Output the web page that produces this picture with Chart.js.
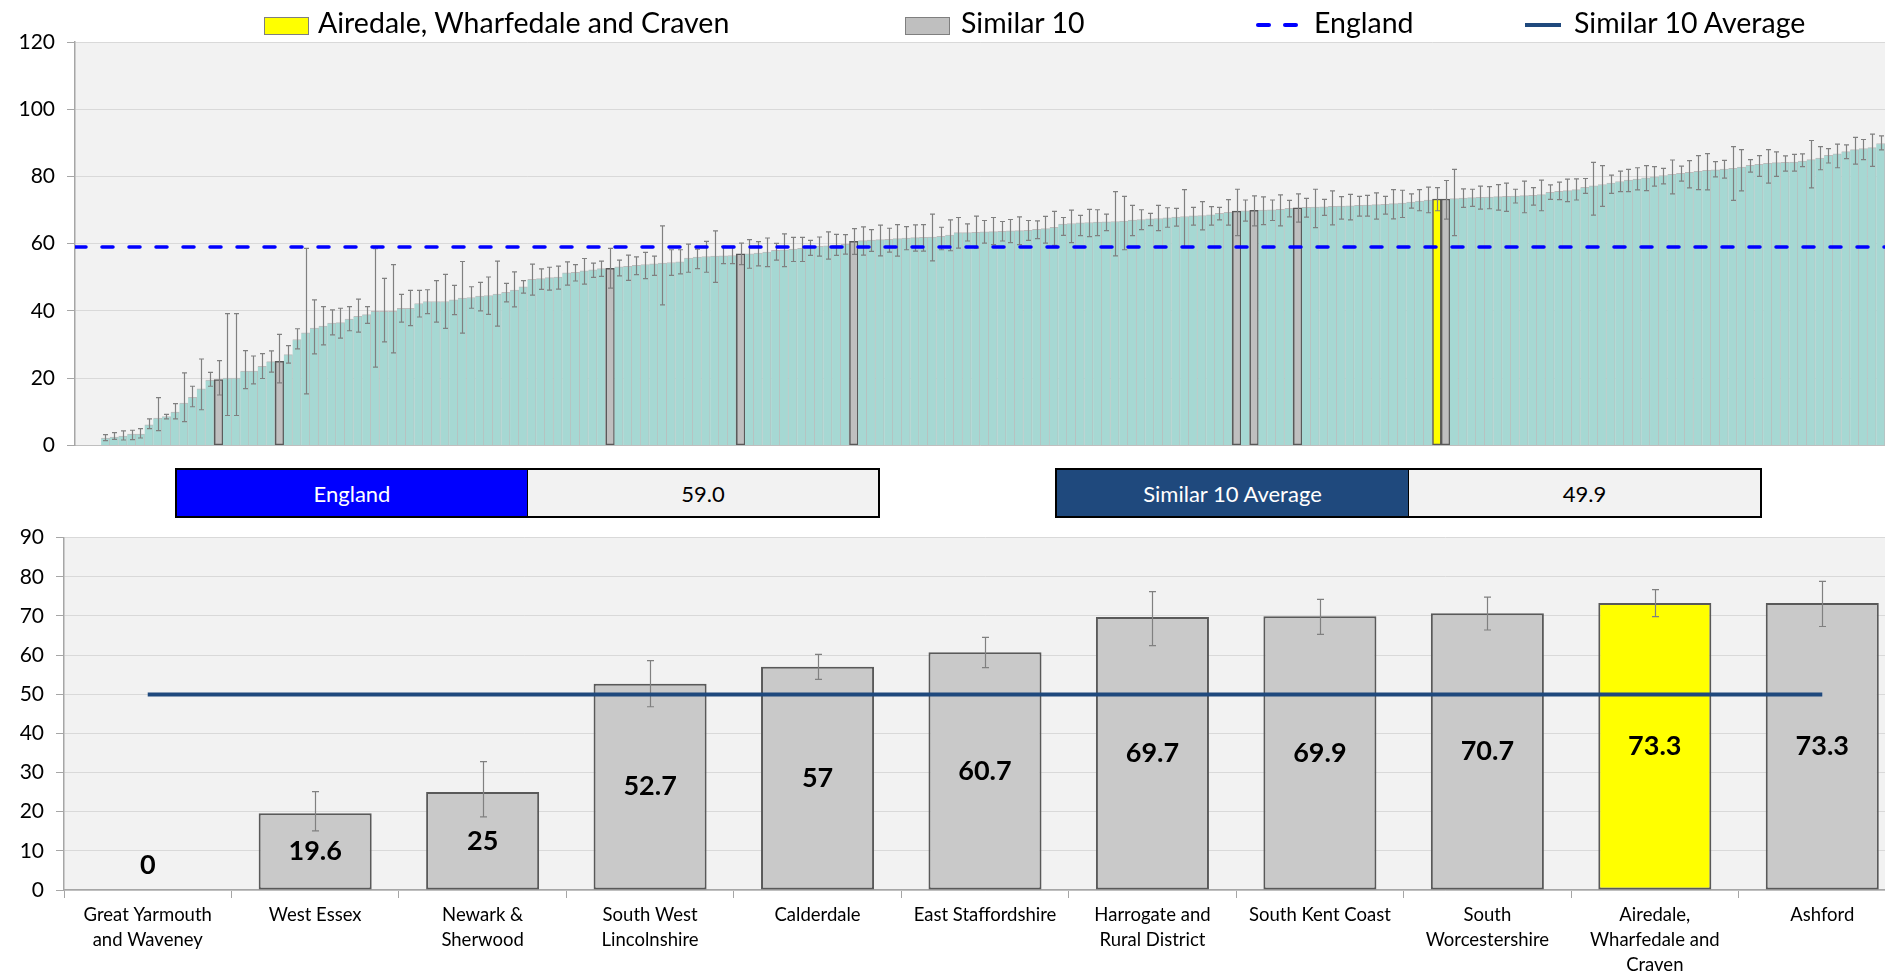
<!DOCTYPE html>
<html>
<head>
<meta charset="utf-8">
<script src="https://cdn.jsdelivr.net/npm/chart.js@4.4.1/dist/chart.umd.min.js"></script>
<style>
	html, body { margin: 0; padding: 0; background: #fff; overflow: hidden; }
	body { width: 1885px; height: 973px; position: relative; font-family: Lato, 'Open Sans', sans-serif; }
	#topWrap { position: absolute; left: 0; top: 0; width: 1885px; height: 470px; }
	#bottomWrap { position: absolute; left: 0; top: 513px; width: 1910px; height: 460px; }
	.lg-text { position: absolute; top: 8px; font-size: 28.5px; line-height: 28.5px; color: #000; white-space: nowrap; }
	.lg-box { position: absolute; top: 17px; width: 43px; height: 16px; border: 1px solid #7f7f7f; }
	.lg-dash { position: absolute; top: 23px; width: 15px; height: 4px; border-radius: 2px; background: #0000ff; }
	.lg-line { position: absolute; top: 23px; width: 36px; height: 4px; background: #1f497d; }
	.stat { position: absolute; top: 468px; height: 50px; border: 2px solid #000; box-sizing: border-box; display: flex; font-size: 22px; }
	.stat div { flex: 1; display: flex; align-items: center; justify-content: center; }
	.stat .val { background: #f2f2f2; color: #000; border-left: 1px solid #000; }
</style>
</head>
<body>

<div id="topWrap"><canvas id="topChart"></canvas></div>
<div id="bottomWrap"><canvas id="bottomChart"></canvas></div>

<!-- shared legend -->
<div class="lg-box" style="left:264px; background:#ffff00;"></div>
<div class="lg-text" style="left:318px;">Airedale, Wharfedale and Craven</div>
<div class="lg-box" style="left:905px; background:#bfbfbf;"></div>
<div class="lg-text" style="left:961px;">Similar 10</div>
<div class="lg-dash" style="left:1256px;"></div>
<div class="lg-dash" style="left:1283px;"></div>
<div class="lg-text" style="left:1314px;">England</div>
<div class="lg-line" style="left:1525px;"></div>
<div class="lg-text" style="left:1574px;">Similar 10 Average</div>

<div class="stat" style="left:175px; width:705px;">
	<div style="background:#0000ff; color:#fff;">England</div>
	<div class="val" id="englandVal"></div>
</div>
<div class="stat" style="left:1055px; width:707px;">
	<div style="background:#1f497d; color:#fff;">Similar 10 Average</div>
	<div class="val" id="similarVal"></div>
</div>

<script>
// reference values
const englandValue = 59.0;
const similarAverage = 49.9;

// all CCGs, sorted (first three slots are zero)
const topValues = [0, 0, 0,
	2.2, 2.5, 2.8, 3.4, 3.4, 6.1, 8.1, 8.6, 9.9, 12.6,
	14.3, 16.8, 19.4, 19.6, 20.0, 20.0, 22.1, 22.1, 23.5, 24.9,
	25.0, 27.0, 31.5, 33.5, 34.9, 35.5, 36.4, 36.5, 37.6, 38.4,
	38.9, 39.9, 39.9, 39.9, 40.8, 40.8, 42.2, 42.8, 42.8, 42.8,
	43.3, 43.8, 44.0, 44.4, 44.6, 45.0, 45.5, 46.2, 47.2, 49.4,
	49.6, 49.9, 50.1, 51.3, 51.5, 51.9, 52.2, 52.6, 52.7, 53.1,
	53.3, 53.6, 53.8, 54.0, 54.2, 54.4, 54.6, 55.7, 56.0, 56.2,
	56.3, 56.4, 56.5, 57.0, 57.0, 57.2, 57.5, 58.0, 58.2, 58.4,
	58.6, 58.9, 59.2, 59.4, 59.6, 59.8, 60.7, 60.9, 61.1, 61.2,
	61.3, 61.5, 61.7, 61.8, 61.9, 62.0, 62.2, 62.6, 63.3, 63.3,
	63.4, 63.5, 63.6, 63.7, 63.8, 63.9, 64.0, 64.3, 64.5, 64.9,
	65.8, 66.0, 66.2, 66.3, 66.4, 66.5, 66.6, 66.7, 67.0, 67.2,
	67.4, 67.5, 67.7, 67.9, 68.1, 68.3, 68.4, 68.6, 69.0, 69.3,
	69.7, 69.8, 69.9, 70.0, 70.1, 70.2, 70.5, 70.7, 70.8, 70.9,
	71.0, 71.1, 71.2, 71.3, 71.4, 71.5, 71.6, 71.7, 71.9, 72.1,
	72.4, 72.7, 73.0, 73.3, 73.3, 73.4, 73.6, 73.7, 73.8, 73.9,
	74.0, 74.1, 74.2, 74.3, 74.4, 74.6, 75.3, 75.6, 75.8, 76.1,
	76.8, 77.2, 77.6, 78.0, 78.5, 78.9, 79.2, 79.6, 79.9, 80.3,
	80.6, 80.9, 81.2, 81.5, 81.8, 82.0, 82.2, 82.4, 82.8, 83.3,
	83.6, 83.9, 84.1, 84.2, 84.3, 84.6, 85.0, 85.5, 86.3, 86.7,
	87.4, 88.0, 88.3, 88.6, 89.8];

const topUpper = [null, null, null,
	3.2, 3.8, 4.3, 4.5, 5.0, 7.9, 14.2, 9.2, 12.4, 21.6,
	17.6, 25.7, 21.7, 25.2, 39.2, 39.2, 28.2, 26.6, 27.3, 28.1,
	33.0, 29.7, 34.7, 58.6, 43.3, 41.3, 40.3, 40.8, 41.3, 43.5,
	41.3, 58.5, 49.7, 53.8, 44.9, 46.1, 46.1, 46.3, 49.0, 50.9,
	47.6, 54.7, 47.2, 48.5, 50.1, 54.8, 48.2, 51.6, 49.0, 53.9,
	52.5, 53.0, 53.3, 54.6, 53.8, 55.6, 54.2, 54.8, 58.6, 55.1,
	56.6, 56.1, 57.4, 56.3, 65.3, 58.2, 58.2, 59.9, 58.4, 60.7,
	63.8, 59.2, 59.2, 60.2, 61.2, 60.6, 61.7, 60.1, 62.9, 61.9,
	61.9, 61.0, 62.0, 63.5, 62.8, 62.7, 64.5, 65.0, 64.2, 65.5,
	64.6, 65.7, 65.1, 65.6, 65.7, 68.8, 64.9, 67.1, 67.8, 65.9,
	68.2, 66.9, 67.8, 66.6, 67.2, 68.0, 66.9, 66.8, 68.1, 69.6,
	67.8, 70.0, 68.4, 70.2, 70.1, 68.8, 75.5, 74.1, 71.4, 70.1,
	69.0, 71.4, 70.7, 70.5, 76.1, 70.8, 72.5, 71.0, 70.8, 73.1,
	76.2, 73.0, 74.2, 73.9, 73.0, 74.5, 72.9, 74.8, 73.5, 76.2,
	73.2, 75.7, 74.0, 74.7, 74.1, 74.4, 75.1, 74.1, 76.1, 75.9,
	74.8, 76.1, 76.8, 76.7, 78.8, 82.1, 76.3, 76.2, 77.1, 77.0,
	77.6, 78.0, 76.2, 78.6, 76.7, 78.9, 77.5, 78.3, 79.2, 79.3,
	79.4, 84.2, 83.2, 80.4, 81.6, 82.1, 82.6, 83.2, 82.9, 82.4,
	84.9, 83.1, 84.7, 86.2, 86.8, 84.4, 84.8, 88.9, 88.0, 85.0,
	86.2, 88.0, 87.3, 86.1, 86.6, 86.7, 90.7, 88.9, 88.3, 89.6,
	89.4, 91.6, 91.0, 92.6, 92.1];

const topLower = [null, null, null,
	1.4, 1.8, 1.6, 1.7, 2.2, 5.0, 4.4, 7.9, 7.9, 7.1,
	11.5, 10.6, 17.6, 15.0, 8.9, 8.9, 16.9, 18.3, 19.9, 21.8,
	18.6, 24.5, 28.7, 15.3, 27.2, 29.9, 32.9, 31.9, 34.1, 33.7,
	36.3, 23.3, 30.8, 27.5, 36.7, 35.6, 38.2, 39.2, 36.7, 34.8,
	38.9, 33.4, 40.8, 40.0, 39.0, 35.5, 42.7, 41.2, 45.3, 44.7,
	46.4, 46.2, 46.5, 47.7, 48.9, 48.0, 50.0, 50.3, 46.8, 50.4,
	49.1, 50.8, 49.6, 50.6, 41.8, 50.6, 51.0, 51.5, 52.6, 51.5,
	48.5, 54.1, 54.1, 53.8, 52.7, 53.4, 53.2, 55.1, 53.2, 54.7,
	54.7, 56.5, 56.3, 55.4, 56.5, 56.9, 56.8, 56.6, 57.7, 56.4,
	57.5, 56.3, 58.2, 57.8, 57.8, 54.9, 58.2, 57.9, 58.7, 60.8,
	58.7, 60.2, 59.7, 60.8, 60.3, 59.7, 61.0, 61.5, 60.2, 59.5,
	62.5, 60.3, 62.4, 62.1, 62.4, 63.9, 56.4, 58.2, 62.4, 64.2,
	65.4, 63.9, 64.9, 65.2, 59.0, 65.5, 64.1, 65.5, 67.1, 65.5,
	62.4, 66.7, 65.3, 65.7, 66.9, 65.3, 68.0, 66.4, 67.9, 64.8,
	68.4, 65.6, 67.3, 67.1, 68.2, 68.2, 67.3, 68.8, 67.4, 67.8,
	70.6, 69.8, 69.2, 69.8, 67.3, 62.4, 70.8, 71.1, 70.3, 70.4,
	70.0, 69.6, 72.1, 69.2, 71.5, 69.8, 73.2, 73.1, 72.5, 73.0,
	75.0, 68.5, 71.1, 75.0, 75.5, 75.5, 76.0, 75.8, 77.1, 77.8,
	74.8, 78.6, 76.6, 76.1, 76.0, 79.9, 79.5, 72.9, 75.7, 81.3,
	80.0, 78.0, 80.0, 81.6, 81.6, 82.9, 76.6, 82.0, 84.0, 82.6,
	85.3, 83.7, 85.0, 83.0, 87.9];

// positions of the similar 10 and the focus CCG in the sorted list
const similarSlots = [0, 16, 23, 61, 76, 89, 133, 135, 140, 157];
const focusSlot = 156;

// similar 10 comparison
const similarLabels = [
	['Great Yarmouth', 'and Waveney'], ['West Essex'], ['Newark &', 'Sherwood'],
	['South West', 'Lincolnshire'], ['Calderdale'], ['East Staffordshire'],
	['Harrogate and', 'Rural District'], ['South Kent Coast'], ['South', 'Worcestershire'],
	['Airedale,', 'Wharfedale and', 'Craven'], ['Ashford']
];
const similarValues = [0, 19.6, 25, 52.7, 57, 60.7, 69.7, 69.9, 70.7, 73.3, 73.3];
const similarUpper = [null, 25.1, 32.8, 58.6, 60.2, 64.5, 76.2, 74.2, 74.8, 76.7, 78.8];
const similarLower = [null, 15.1, 18.7, 46.8, 53.8, 56.8, 62.4, 65.3, 66.4, 69.8, 67.3];
const similarFocus = 9;

document.getElementById('englandVal').textContent = englandValue.toFixed(1);
document.getElementById('similarVal').textContent = similarAverage.toFixed(1);

Chart.defaults.font.family = "Lato, 'Open Sans', sans-serif";
Chart.defaults.color = '#000';

// grey plot background
const plotBg = {
	id: 'plotBg',
	beforeDraw(chart) {
		const a = chart.chartArea;
		chart.ctx.save();
		chart.ctx.fillStyle = '#f2f2f2';
		chart.ctx.fillRect(a.left, a.top, a.right - a.left, a.bottom - a.top);
		chart.ctx.restore();
	}
};

// error bars from errLow / errHigh on a bar dataset
const errorBars = {
	id: 'errorBars',
	afterDatasetDraw(chart, args, opts) {
		const ds = chart.data.datasets[args.index];
		if (!ds.errLow) return;
		const y = chart.scales.y;
		const ctx = chart.ctx;
		ctx.save();
		ctx.strokeStyle = opts.color;
		ctx.lineWidth = opts.width;
		args.meta.data.forEach((bar, i) => {
			const lo = ds.errLow[i], hi = ds.errHigh[i];
			if (lo == null || hi == null) return;
			const x = Math.round(bar.x) + 0.5;
			const yl = y.getPixelForValue(lo), yh = y.getPixelForValue(hi);
			ctx.beginPath();
			ctx.moveTo(x, yl); ctx.lineTo(x, yh);
			ctx.moveTo(x - opts.cap, yl); ctx.lineTo(x + opts.cap, yl);
			ctx.moveTo(x - opts.cap, yh); ctx.lineTo(x + opts.cap, yh);
			ctx.stroke();
		});
		ctx.restore();
	}
};

// value labels in the middle of the bars
const barLabels = {
	id: 'barLabels',
	afterDatasetsDraw(chart) {
		const meta = chart.getDatasetMeta(1);
		const ds = chart.data.datasets[1];
		const ctx = chart.ctx;
		ctx.save();
		ctx.font = "bold 27px Lato, 'Open Sans', sans-serif";
		ctx.fillStyle = '#000';
		ctx.textAlign = 'center';
		ctx.textBaseline = 'middle';
		meta.data.forEach((bar, i) => {
			const mid = (bar.y + bar.base) / 2;
			ctx.fillText(String(ds.data[i]), bar.x, Math.min(mid, bar.base - 25));
		});
		ctx.restore();
	}
};

const teal = '#a6d8d3';
const topColors = topValues.map((v, i) => i === focusSlot ? '#ffff00' : similarSlots.includes(i) ? '#bfbfbf' : teal);
const topBorders = topValues.map((v, i) => i === focusSlot || similarSlots.includes(i) ? '#595959' : '#bcbcbc');
const topBorderWidths = topValues.map((v, i) => i === focusSlot || similarSlots.includes(i)
	? 1.5 : { top: 1, right: 1, bottom: 0, left: 0 });

const topCanvas = document.getElementById('topChart');
topCanvas.width = 1885;
topCanvas.height = 470;

new Chart(topCanvas, {
	type: 'bar',
	data: {
		labels: topValues.map((v, i) => i + 1),
		datasets: [
			{
				type: 'line',
				label: 'England',
				data: [{ x: 0, y: englandValue }, { x: 1, y: englandValue }],
				xAxisID: 'xLine',
				borderColor: '#0000ff',
				borderWidth: 3.5,
				borderDash: [11, 16],
				borderCapStyle: 'round',
				pointRadius: 0,
				order: 0
			},
			{
				label: 'CCGs',
				data: topValues,
				errLow: topLower,
				errHigh: topUpper,
				backgroundColor: topColors,
				borderColor: topBorders,
				borderWidth: topBorderWidths,
				borderSkipped: false,
				grouped: false,
				barPercentage: 1,
				categoryPercentage: 1,
				order: 1
			}
		]
	},
	options: {
		responsive: false,
		animation: false,
		events: [],
		layout: { padding: { top: 42, bottom: 0, left: 0, right: 0 } },
		plugins: {
			legend: { display: false },
			tooltip: { enabled: false },
			errorBars: { color: '#808080', width: 1.2, cap: 2.5 }
		},
		scales: {
			x: {
				ticks: { display: false },
				grid: { display: false },
				border: { color: '#bfbfbf' },
				afterFit: s => { s.height = 0; }
			},
			xLine: { type: 'linear', min: 0, max: 1, offset: false, display: false },
			y: {
				min: 0,
				max: 120,
				ticks: { stepSize: 20, padding: 12, font: { size: 21 } },
				grid: { color: '#d9d9d9', tickColor: '#a6a6a6', tickLength: 8 },
				border: { color: '#a6a6a6', width: 1.5 },
				afterFit: s => { s.width = 75; }
			}
		}
	},
	plugins: [plotBg, errorBars]
});

const bottomCanvas = document.getElementById('bottomChart');
bottomCanvas.width = 1910;
bottomCanvas.height = 460;

new Chart(bottomCanvas, {
	type: 'bar',
	data: {
		labels: similarLabels,
		datasets: [
			{
				type: 'line',
				label: 'Similar 10 Average',
				data: [{ x: 0, y: similarAverage }, { x: similarLabels.length - 1, y: similarAverage }],
				xAxisID: 'xLine',
				borderColor: '#1f497d',
				borderWidth: 4,
				pointRadius: 0,
				order: 0
			},
			{
				label: 'Similar 10',
				data: similarValues,
				errLow: similarLower,
				errHigh: similarUpper,
				backgroundColor: similarValues.map((v, i) => i === similarFocus ? '#ffff00' : '#c9c9c9'),
				borderColor: '#595959',
				borderWidth: 2,
				borderSkipped: false,
				grouped: false,
				barPercentage: 0.675,
				categoryPercentage: 1,
				order: 1
			}
		]
	},
	options: {
		responsive: false,
		animation: false,
		events: [],
		layout: { padding: { top: 0, bottom: 0, left: 0, right: 4 } },
		plugins: {
			legend: { display: false },
			tooltip: { enabled: false },
			errorBars: { color: '#808080', width: 1.2, cap: 3.5 }
		},
		scales: {
			x: {
				ticks: { font: { size: 18.5, lineHeight: 1.35 }, padding: 5, maxRotation: 0, autoSkip: false },
				grid: { drawOnChartArea: false, offset: true, color: '#a6a6a6', tickLength: 8 },
				border: { color: '#a6a6a6', width: 1.5 },
				afterFit: s => { s.height = 83; }
			},
			xLine: { type: 'linear', min: -0.5, max: similarLabels.length - 0.5, offset: false, display: false },
			y: {
				min: 0,
				max: 90,
				ticks: { stepSize: 10, padding: 12, font: { size: 21 } },
				grid: { color: '#d9d9d9', tickColor: '#a6a6a6', tickLength: 8 },
				border: { color: '#a6a6a6', width: 1.5 },
				afterFit: s => { s.width = 64; }
			}
		}
	},
	plugins: [plotBg, errorBars, barLabels]
});
</script>
</body>
</html>
